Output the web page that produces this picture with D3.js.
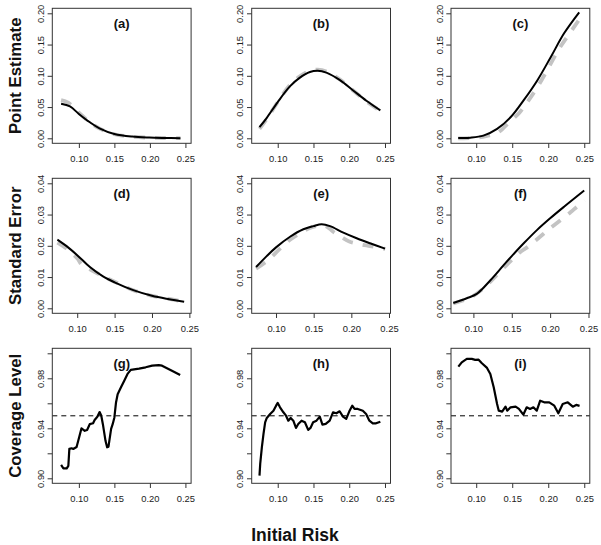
<!DOCTYPE html>
<html><head><meta charset="utf-8">
<script src="https://cdn.jsdelivr.net/npm/d3@7"></script>
<style>body{margin:0;background:#fff}svg{display:block}</style>
</head><body><svg id="c" width="601" height="545"></svg>
<script>
// ---------------- DATA ----------------
const rowTitles = ["Point Estimate", "Standard Error", "Coverage Level"];
const panelLabels = ["(a)","(b)","(c)","(d)","(e)","(f)","(g)","(h)","(i)"];
const xTicks = [0.10, 0.15, 0.20, 0.25];
const yTicksPE = [0.00, 0.05, 0.10, 0.15, 0.20];
const yTicksSE = [0.00, 0.01, 0.02, 0.03, 0.04];
const yTicksCov = [0.90, 0.92, 0.94, 0.96, 0.98, 1.00];
const yLabelsCov = [0.90, 0.94, 0.98];
const nominalCoverage = 0.95;
const xTitle = "Initial Risk";

// (a) point estimate
const aX_est = [0.075,0.0875,0.10,0.115,0.129,0.15,0.175,0.199,0.22,0.243];
const aY_est = [0.0554,0.051,0.039,0.026,0.016,0.007,0.0027,0.0011,0.0005,0.0002];
const aX_true = [0.075,0.085,0.10,0.115,0.13,0.15,0.175,0.2,0.22,0.243];
const aY_true = [0.061,0.057,0.041,0.026,0.015,0.0065,0.0025,0.001,0.0005,0.0002];
// (b)
const bX_est = [0.0745,0.0847,0.10,0.117,0.131,0.145,0.156,0.168,0.187,0.205,0.224,0.2435];
const bY_est = [0.0177,0.0328,0.058,0.083,0.097,0.106,0.108,0.105,0.093,0.077,0.060,0.0446];
const bX_true = [0.0745,0.0847,0.10,0.117,0.131,0.145,0.156,0.168,0.187,0.205,0.224,0.2435];
const bY_true = [0.015,0.031,0.058,0.085,0.099,0.108,0.110,0.107,0.094,0.077,0.059,0.044];
// (c)
const cX_est = [0.075,0.0916,0.110,0.129,0.148,0.166,0.185,0.204,0.222,0.243];
const cY_est = [0.0003,0.001,0.0043,0.015,0.034,0.061,0.093,0.131,0.168,0.2016];
const cX_true = [0.075,0.10,0.115,0.13,0.146,0.16,0.171,0.185,0.20,0.215,0.228,0.243];
const cY_true = [0.0,0.001,0.004,0.009,0.026,0.041,0.058,0.082,0.112,0.143,0.165,0.19];
// (d) standard error
const dX_est = [0.0735,0.0858,0.10,0.117,0.1345,0.15,0.175,0.20,0.223,0.243];
const dY_est = [0.0220,0.0199,0.0170,0.0132,0.0102,0.0083,0.0058,0.0040,0.0029,0.0021];
const dX_true = [0.0735,0.0858,0.10,0.106,0.117,0.135,0.15,0.175,0.20,0.223,0.245];
const dY_true = [0.021,0.0191,0.016,0.0140,0.0125,0.0102,0.0085,0.0058,0.0040,0.003,0.0021];
// (e)
const eX_est = [0.0735,0.0876,0.10,0.1186,0.1363,0.1496,0.1606,0.1717,0.1894,0.2071,0.2248,0.2447];
const eY_est = [0.0132,0.0167,0.0195,0.0229,0.0253,0.0263,0.0269,0.0263,0.0242,0.0224,0.0208,0.0191];
const eX_true = [0.0735,0.09,0.105,0.12,0.1319,0.145,0.158,0.167,0.176,0.187,0.198,0.2115,0.225,0.245];
const eY_true = [0.0127,0.0155,0.019,0.0222,0.024,0.0257,0.0265,0.0262,0.0245,0.0228,0.0213,0.0205,0.0199,0.019];
// (f)
const fX_est = [0.0738,0.0913,0.1044,0.1219,0.1394,0.15,0.1656,0.1831,0.20,0.2181,0.2444];
const fY_est = [0.0017,0.0032,0.0046,0.0089,0.0138,0.0167,0.0208,0.0251,0.0288,0.0325,0.0377];
const fX_true = [0.0738,0.085,0.10,0.115,0.13,0.145,0.16,0.17,0.185,0.1985,0.215,0.2269,0.235,0.245];
const fY_true = [0.0016,0.0024,0.0040,0.0068,0.0105,0.0143,0.0178,0.0195,0.0225,0.0253,0.0285,0.0308,0.0325,0.0345];
// (g) coverage
const gX = [0.075,0.0782,0.0829,0.0852,0.0866,0.0898,0.0921,0.0968,0.1005,0.1037,0.1083,0.1116,0.1153,0.12,0.1222,0.126,0.1292,0.1315,0.1338,0.1375,0.1398,0.1417,0.1454,0.1477,0.15,0.1523,0.1546,0.1593,0.1639,0.1685,0.1731,0.1847,0.194,0.2032,0.2125,0.2171,0.231,0.2426];
const gY = [0.9107,0.908,0.908,0.910,0.9235,0.924,0.9235,0.925,0.933,0.940,0.938,0.9387,0.9433,0.944,0.9467,0.9493,0.953,0.9503,0.9433,0.930,0.9248,0.9253,0.9395,0.9435,0.9487,0.9607,0.9673,0.9728,0.9781,0.9835,0.9867,0.9877,0.9888,0.9901,0.9905,0.9901,0.9861,0.9827];
// (h)
const hX = [0.0745,0.0755,0.0778,0.0801,0.0824,0.0847,0.0894,0.094,0.0977,0.10,0.1032,0.1079,0.1116,0.1148,0.1181,0.1218,0.1255,0.1287,0.1333,0.138,0.1426,0.1458,0.1495,0.1542,0.1588,0.1625,0.1671,0.1727,0.1773,0.182,0.1866,0.1912,0.1958,0.2005,0.2042,0.2074,0.212,0.219,0.2236,0.2282,0.2329,0.2375,0.2435];
const hY = [0.9021,0.9115,0.9248,0.9355,0.9448,0.9483,0.9515,0.9541,0.9581,0.9603,0.9568,0.9528,0.9501,0.9461,0.9483,0.9461,0.9403,0.9435,0.9461,0.9448,0.9387,0.9403,0.9448,0.9461,0.9493,0.9429,0.9435,0.9461,0.9528,0.952,0.9536,0.9493,0.9475,0.9541,0.9581,0.9555,0.9555,0.9541,0.9515,0.9461,0.944,0.944,0.9453];
// (i)
const iX = [0.0752,0.0799,0.0869,0.0939,0.0986,0.1033,0.1079,0.115,0.1196,0.1243,0.129,0.1313,0.136,0.1407,0.143,0.1477,0.1547,0.1593,0.1654,0.1701,0.1748,0.1794,0.1841,0.1888,0.1944,0.2014,0.2084,0.214,0.2201,0.2271,0.2341,0.2388,0.2435];
const iY = [0.9893,0.9928,0.9955,0.9955,0.9947,0.9949,0.992,0.9883,0.9835,0.9728,0.9595,0.9541,0.9533,0.9573,0.9541,0.9568,0.9573,0.9555,0.9509,0.9568,0.9555,0.9568,0.9541,0.9621,0.9608,0.9608,0.9581,0.952,0.9595,0.9608,0.9573,0.9587,0.9579];

// ---------------- LAYOUT ----------------
const svg = d3.select("#c");
svg.append("rect").attr("width",601).attr("height",545).attr("fill","#fff");
const colLeft = [52.3, 251.7, 451];
const rowTop = [8.3, 178.3, 348.3];
const pw = 138.8, ph = 135;
const xDomains = [[0.0626,0.258],[0.0636,0.2577],[0.065,0.2577],
                  [0.0667,0.2523],[0.0677,0.252],[0.0708,0.2517],
                  [0.0626,0.258],[0.0636,0.2577],[0.065,0.2577]];
const yDomains = [[-0.008,0.208],[-0.0016,0.0416],[0.896,1.004]];
const yTickSets = [yTicksPE, yTicksSE, yTicksCov];

const zip = (xs, ys) => xs.map((x,i)=>[x, ys[i]]);
const panels = [
  {true: zip(aX_true,aY_true), est: zip(aX_est,aY_est)},
  {true: zip(bX_true,bY_true), est: zip(bX_est,bY_est)},
  {true: zip(cX_true,cY_true), est: zip(cX_est,cY_est)},
  {true: zip(dX_true,dY_true), est: zip(dX_est,dY_est)},
  {true: zip(eX_true,eY_true), est: zip(eX_est,eY_est)},
  {true: zip(fX_true,fY_true), est: zip(fX_est,fY_est)},
  {cov: zip(gX,gY)},
  {cov: zip(hX,hY)},
  {cov: zip(iX,iY)}
];
const font = "'Liberation Sans', Arial, Helvetica, sans-serif";

panels.forEach((p, k) => {
  const r = Math.floor(k/3), c = k%3;
  const x0 = colLeft[c], y0 = rowTop[r];
  const g = svg.append("g").attr("transform", `translate(${x0},${y0})`);
  const x = d3.scaleLinear().domain(xDomains[k]).range([0, pw]);
  const y = d3.scaleLinear().domain(yDomains[r]).range([ph, 0]);

  const line = d3.line().x(d=>x(d[0])).y(d=>y(d[1]));
  if (p.true) {
    const sm = d3.line().x(d=>x(d[0])).y(d=>y(d[1])).curve(d3.curveCatmullRom.alpha(0.5));
    g.append("path").attr("d", sm(p.true)).attr("fill","none")
      .attr("stroke","#c3c3c3").attr("stroke-width",3.8).attr("stroke-dasharray","11,10");
    g.append("path").attr("d", sm(p.est)).attr("fill","none")
      .attr("stroke","#000").attr("stroke-width",2);
  } else {
    g.append("line").attr("x1",0).attr("x2",pw)
      .attr("y1",y(nominalCoverage)).attr("y2",y(nominalCoverage))
      .attr("stroke","#000").attr("stroke-width",1).attr("stroke-dasharray","5,4");
    g.append("path").attr("d", line(p.cov)).attr("fill","none")
      .attr("stroke","#000").attr("stroke-width",2.2).attr("stroke-linejoin","round");
  }

  // box
  g.append("rect").attr("x",0).attr("y",0).attr("width",pw).attr("height",ph)
    .attr("fill","none").attr("stroke","#333").attr("stroke-width",1);

  // x axis
  const xa = g.append("g").attr("transform",`translate(0,${ph})`)
    .call(d3.axisBottom(x).tickValues(xTicks).tickFormat(d3.format(".2f"))
      .tickSize(4.7).tickSizeOuter(0).tickPadding(7));
  xa.select(".domain").remove();
  xa.selectAll("line").attr("stroke","#333");
  xa.selectAll("text").attr("font-family",font).attr("font-size",9.4).attr("fill","#222");

  // y axis
  const ticks = yTickSets[r];
  const ya = g.append("g")
    .call(d3.axisLeft(y).tickValues(ticks)
      .tickFormat(v => (r===2 && !yLabelsCov.some(l=>Math.abs(l-v)<1e-9)) ? "" : d3.format(".2f")(v))
      .tickSize(4.7).tickSizeOuter(0));
  ya.select(".domain").remove();
  ya.selectAll("line").attr("stroke","#333");
  ya.selectAll("text").attr("font-family",font).attr("font-size",9.4).attr("fill","#222")
    .attr("text-anchor","middle").attr("dy",null).attr("x",null)
    .attr("transform","translate(-8.5,0) rotate(-90)");

  // panel label
  g.append("text").attr("x",pw/2).attr("y",19.5).attr("text-anchor","middle")
    .attr("font-family",font).attr("font-weight","bold").attr("font-size",13)
    .attr("fill","#111").text(panelLabels[k]);
});

rowTitles.forEach((t, r) => {
  svg.append("text").attr("transform",`translate(21,${rowTop[r]+ph/2}) rotate(-90)`)
    .attr("text-anchor","middle").attr("font-family",font).attr("font-weight","bold")
    .attr("font-size",16.8).attr("fill","#111").text(t);
});
svg.append("text").attr("x",295).attr("y",541).attr("text-anchor","middle")
  .attr("font-family",font).attr("font-weight","bold").attr("font-size",17.5)
  .attr("fill","#111").text(xTitle);
</script></body></html>
